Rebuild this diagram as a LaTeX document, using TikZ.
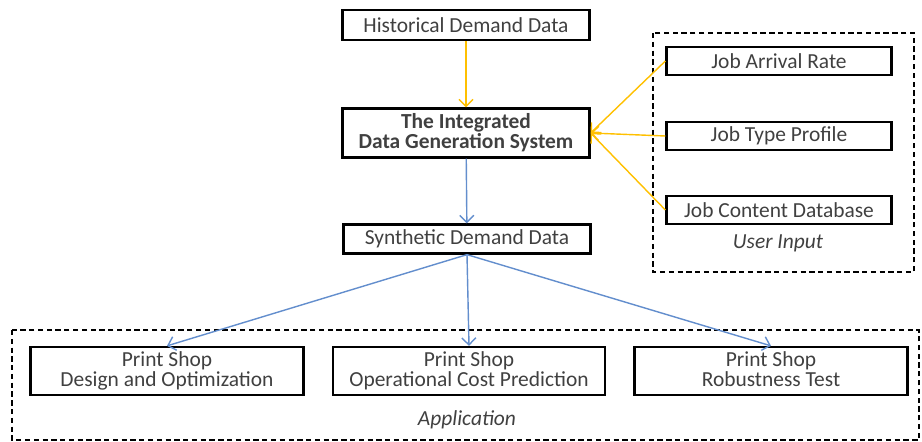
\documentclass[tikz,border=0pt]{standalone}
\usepackage{fontspec}
\setmainfont{Carlito}
\usetikzlibrary{arrows.meta}
\definecolor{arrowgold}{RGB}{255,192,0}
\definecolor{arrowblue}{RGB}{99,142,205}
\definecolor{boxtext}{RGB}{64,64,64}
\tikzstyle{databox}=[draw, line width=1.3pt, inner sep=0pt, align=center, text=boxtext, font=\fontsize{12.2}{11.2}\selectfont]
\tikzstyle{groupbox}=[draw, densely dashed, line width=0.6pt]
\tikzstyle{goldline}=[draw=arrowgold, line width=0.8pt, -{Straight Barb[length=4pt,width=8pt]}]
\tikzstyle{blueline}=[draw=arrowblue, line width=0.8pt, -{Straight Barb[length=4pt,width=8pt]}]
\tikzstyle{grouplabel}=[text=boxtext, font=\fontsize{12.2}{14}\selectfont\itshape]

\begin{document}
\begin{tikzpicture}[x=0.02cm,y=-0.02cm]
		\useasboundingbox (0,0) rectangle (922,442);
		% dashed groups
		\draw[groupbox] (653,33) rectangle (914,272);
		\draw[groupbox] (12,330) rectangle (919,440);
		\node[grouplabel] (uilabel) at (778,243) {User Input};
		\node[grouplabel] (applabel) at (467,420) {Application};
		% main column
		\node[databox, minimum width=4.94cm, minimum height=0.6cm] (hist) at (466,25) {Historical Demand Data};
		\node[databox, minimum width=4.94cm, minimum height=0.98cm] (ids) at (466,133) {\textbf{The Integrated}\\\textbf{Data Generation System}};
		\node[databox, minimum width=4.94cm, minimum height=0.58cm] (sdd) at (467,239) {Synthetic Demand Data};
		% user input
		\node[databox, minimum width=4.5cm, minimum height=0.56cm] (jar) at (779,61) {Job Arrival Rate};
		\node[databox, minimum width=4.5cm, minimum height=0.56cm] (jtp) at (779,136) {Job Type Profile};
		\node[databox, minimum width=4.5cm, minimum height=0.56cm] (jcd) at (779,210) {Job Content Database};
		% applications
		\node[databox, minimum width=5.46cm, minimum height=0.96cm] (design) at (167,371) {Print Shop\\Design and Optimization};
		\node[databox, minimum width=5.44cm, minimum height=0.96cm] (cost) at (469,371) {Print Shop\\Operational Cost Prediction};
		\node[databox, minimum width=5.46cm, minimum height=0.96cm] (robust) at (771,371) {Print Shop\\Robustness Test\vphantom{p}};
		% connectors
		\draw[goldline] (hist) -- (ids);
		\draw[goldline] (jar.west) -- (ids.east);
		\draw[goldline] (jtp.west) -- (ids.east);
		\draw[goldline] (jcd.west) -- (ids.east);
		\draw[blueline] (ids) -- (sdd);
		\draw[blueline] (sdd.south) -- (design.north);
		\draw[blueline] (sdd.south) -- (cost.north);
		\draw[blueline] (sdd.south) -- (robust.north);
	\end{tikzpicture}
\end{document}
